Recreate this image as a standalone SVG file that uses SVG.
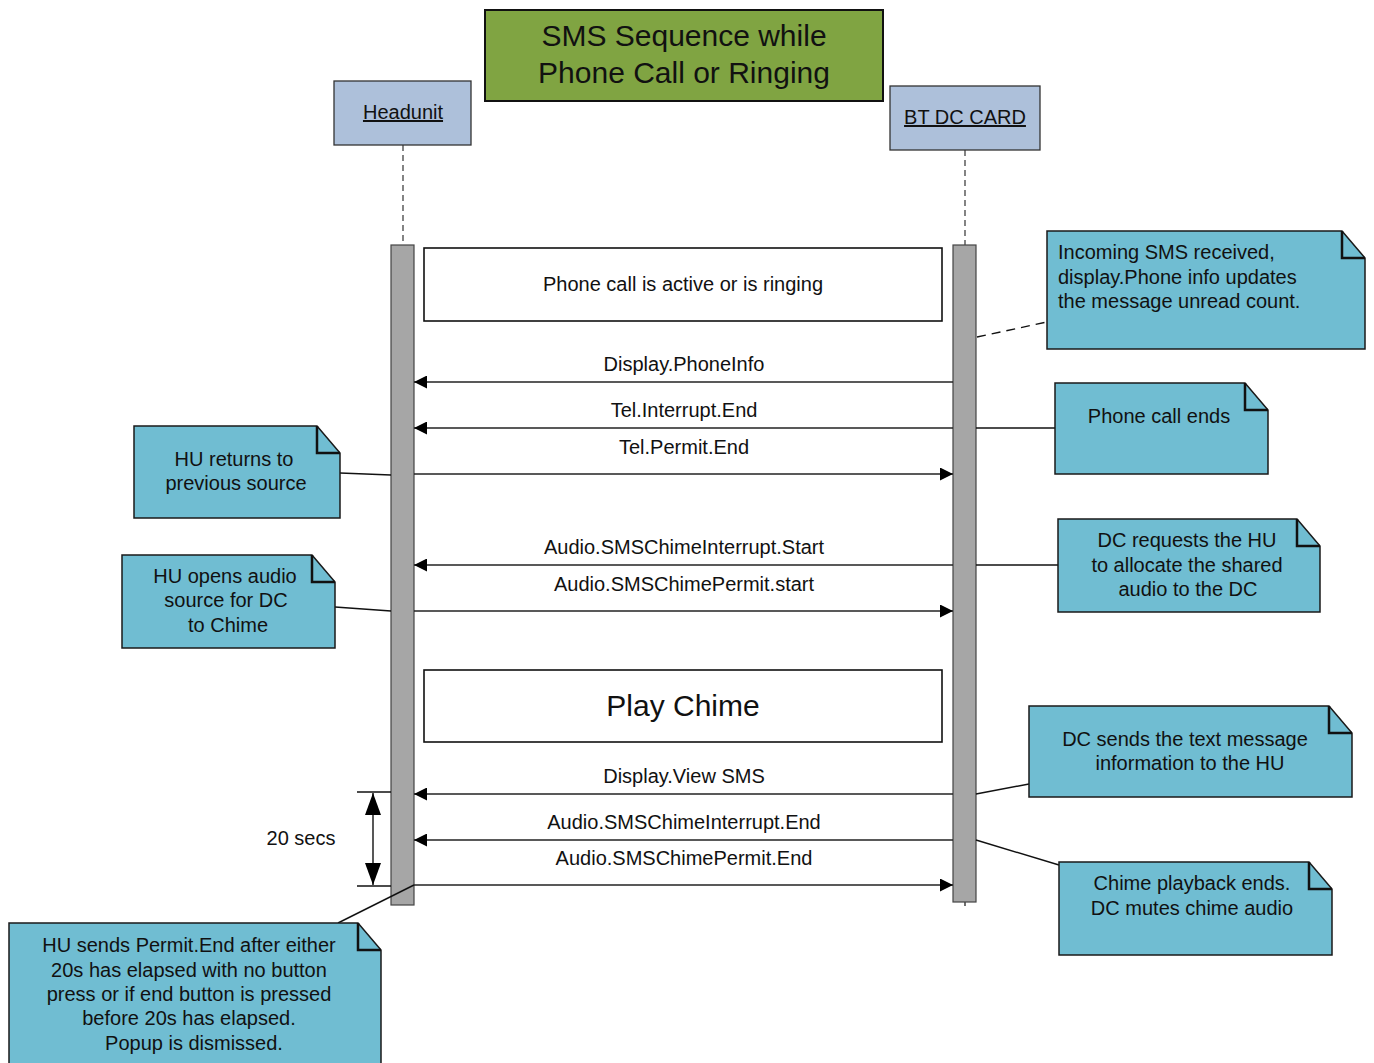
<svg xmlns="http://www.w3.org/2000/svg" width="1374" height="1063" viewBox="0 0 1374 1063">
  <style>
    text { font-family: "Liberation Sans", Arial, sans-serif; fill: #111; }
    .t20 { font-size: 20px; }
    .mid { text-anchor: middle; }
    .actor { fill: #adc0da; stroke: #333; stroke-width: 1.3; }
    .bar { fill: #a6a6a6; stroke: #444; stroke-width: 1.2; }
    .life { stroke: #333; stroke-width: 1.2; stroke-dasharray: 6 4; fill: none; }
    .frame { fill: #fff; stroke: #111; stroke-width: 1.6; }
    .msg { stroke: #222; stroke-width: 1.3; fill: none; }
    .note { fill: #70bdd2; stroke: #1a1a1a; stroke-width: 1.5; }
    .fold { fill: none; stroke: #111; stroke-width: 2.5; stroke-linejoin: miter; }
    .link { stroke: #111; stroke-width: 1.4; fill: none; }
  </style>
  <defs>
    <marker id="arrow" viewBox="0 0 13 13" markerWidth="13" markerHeight="13" markerUnits="userSpaceOnUse" refX="13" refY="6.5" orient="auto">
      <path d="M0,0 L13,6.5 L0,13 z" fill="#000"/>
    </marker>
    <marker id="bigArrow" viewBox="0 0 22 16" markerWidth="22" markerHeight="16" markerUnits="userSpaceOnUse" refX="22" refY="8" orient="auto">
      <path d="M0,0 L22,8 L0,16 z" fill="#000"/>
    </marker>
  </defs>

  <!-- title -->
  <g id="title">
    <rect x="485" y="10" width="398" height="91" fill="#80a442" stroke="#111" stroke-width="2"/>
    <text class="mid" x="684" y="46" font-size="30">SMS Sequence while</text>
    <text class="mid" x="684" y="83" font-size="30">Phone Call or Ringing</text>
  </g>

  <!-- participants -->
  <g id="headunit">
    <rect class="actor" x="334" y="81" width="137" height="64"/>
    <text class="t20 mid" x="403" y="119" text-decoration="underline">Headunit</text>
    <line class="life" x1="403" y1="145" x2="403" y2="245"/>
    <rect class="bar" x="391" y="245" width="23" height="660"/>
  </g>
  <g id="btdccard">
    <rect class="actor" x="890" y="86" width="150" height="64"/>
    <text class="t20 mid" x="965" y="124" text-decoration="underline">BT DC CARD</text>
    <line class="life" x1="965" y1="150" x2="965" y2="245"/>
    <line class="msg" x1="965" y1="902" x2="965" y2="906"/>
    <rect class="bar" x="953" y="245" width="23" height="657"/>
  </g>

  <!-- state frames -->
  <g id="frame-call">
    <rect class="frame" x="424" y="248" width="518" height="73"/>
    <text class="t20 mid" x="683" y="291">Phone call is active or is ringing</text>
  </g>
  <g id="frame-chime">
    <rect class="frame" x="424" y="670" width="518" height="72"/>
    <text class="mid" x="683" y="716" font-size="30">Play Chime</text>
  </g>

  <!-- messages -->
  <g id="connectors">
    <line class="msg" x1="953" y1="382" x2="414" y2="382" marker-end="url(#arrow)"/>
    <text class="t20 mid" x="684" y="371">Display.PhoneInfo</text>

    <line class="msg" x1="953" y1="428" x2="414" y2="428" marker-end="url(#arrow)"/>
    <text class="t20 mid" x="684" y="417">Tel.Interrupt.End</text>

    <line class="msg" x1="414" y1="474" x2="953" y2="474" marker-end="url(#arrow)"/>
    <text class="t20 mid" x="684" y="454">Tel.Permit.End</text>

    <line class="msg" x1="953" y1="565" x2="414" y2="565" marker-end="url(#arrow)"/>
    <text class="t20 mid" x="684" y="554">Audio.SMSChimeInterrupt.Start</text>

    <line class="msg" x1="414" y1="611" x2="953" y2="611" marker-end="url(#arrow)"/>
    <text class="t20 mid" x="684" y="591">Audio.SMSChimePermit.start</text>

    <line class="msg" x1="953" y1="794" x2="414" y2="794" marker-end="url(#arrow)"/>
    <text class="t20 mid" x="684" y="783">Display.View SMS</text>

    <line class="msg" x1="953" y1="840" x2="414" y2="840" marker-end="url(#arrow)"/>
    <text class="t20 mid" x="684" y="829">Audio.SMSChimeInterrupt.End</text>

    <line class="msg" x1="414" y1="885" x2="953" y2="885" marker-end="url(#arrow)"/>
    <text class="t20 mid" x="684" y="865">Audio.SMSChimePermit.End</text>

    <!-- note links -->
    <line class="link" x1="977" y1="337" x2="1047" y2="322" stroke-dasharray="9 6"/>
    <line class="link" x1="976" y1="428" x2="1055" y2="428"/>
    <line class="link" x1="976" y1="565" x2="1058" y2="565"/>
    <line class="link" x1="976" y1="794" x2="1029" y2="784"/>
    <line class="link" x1="976" y1="840" x2="1059" y2="865"/>
    <line class="link" x1="340" y1="473" x2="391" y2="475"/>
    <line class="link" x1="335" y1="607" x2="391" y2="611"/>
    <line class="link" x1="338" y1="923" x2="414" y2="885"/>

    <!-- 20 second span -->
    <line class="link" x1="357" y1="792" x2="391" y2="792"/>
    <line class="link" x1="357" y1="886" x2="391" y2="886"/>
    <line class="link" x1="373" y1="839" x2="373" y2="793" marker-end="url(#bigArrow)"/>
    <line class="link" x1="373" y1="839" x2="373" y2="885" marker-end="url(#bigArrow)"/>
  </g>
  <text id="span-label" class="t20 mid" x="301" y="845">20 secs</text>

  <!-- notes -->
  <g id="note-sms-received">
    <path class="note" d="M1047,231 H1342 L1365,258 V349 H1047 Z"/>
    <path class="fold" d="M1342,231 V258 H1365"/>
    <text class="t20" x="1058" y="259">Incoming SMS received,</text>
    <text class="t20" x="1058" y="284">display.Phone info updates</text>
    <text class="t20" x="1058" y="308">the message unread count.</text>
  </g>
  <g id="note-call-ends">
    <path class="note" d="M1055,383 H1245 L1268,410 V474 H1055 Z"/>
    <path class="fold" d="M1245,383 V410 H1268"/>
    <text class="t20 mid" x="1159" y="423">Phone call ends</text>
  </g>
  <g id="note-dc-requests">
    <path class="note" d="M1058,519 H1297 L1320,546 V612 H1058 Z"/>
    <path class="fold" d="M1297,519 V546 H1320"/>
    <text class="t20 mid" x="1187" y="547">DC requests the HU</text>
    <text class="t20 mid" x="1187" y="572">to allocate the shared</text>
    <text class="t20 mid" x="1188" y="596">audio to the DC</text>
  </g>
  <g id="note-dc-sends">
    <path class="note" d="M1029,706 H1329 L1352,733 V797 H1029 Z"/>
    <path class="fold" d="M1329,706 V733 H1352"/>
    <text class="t20 mid" x="1185" y="746">DC sends the text message</text>
    <text class="t20 mid" x="1190" y="770">information to the HU</text>
  </g>
  <g id="note-chime-ends">
    <path class="note" d="M1059,862 H1309 L1332,889 V955 H1059 Z"/>
    <path class="fold" d="M1309,862 V889 H1332"/>
    <text class="t20 mid" x="1192" y="890">Chime playback ends.</text>
    <text class="t20 mid" x="1192" y="915">DC mutes chime audio</text>
  </g>
  <g id="note-hu-returns">
    <path class="note" d="M134,426 H317 L340,453 V518 H134 Z"/>
    <path class="fold" d="M317,426 V453 H340"/>
    <text class="t20 mid" x="234" y="466">HU returns to</text>
    <text class="t20 mid" x="236" y="490">previous source</text>
  </g>
  <g id="note-hu-opens">
    <path class="note" d="M122,555 H312 L335,582 V648 H122 Z"/>
    <path class="fold" d="M312,555 V582 H335"/>
    <text class="t20 mid" x="225" y="583">HU opens audio</text>
    <text class="t20 mid" x="226" y="607">source for DC</text>
    <text class="t20 mid" x="228" y="632">to Chime</text>
  </g>
  <g id="note-permit-end">
    <path class="note" d="M9,923 H358 L381,950 V1070 H9 Z"/>
    <path class="fold" d="M358,923 V950 H381"/>
    <text class="t20 mid" x="189" y="952">HU sends Permit.End after either</text>
    <text class="t20 mid" x="189" y="977">20s has elapsed with no button</text>
    <text class="t20 mid" x="189" y="1001">press or if end button is pressed</text>
    <text class="t20 mid" x="189" y="1025">before 20s has elapsed.</text>
    <text class="t20 mid" x="194" y="1050">Popup is dismissed.</text>
  </g>
</svg>
